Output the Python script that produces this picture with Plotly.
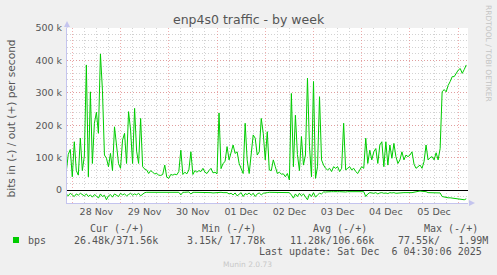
import pandas as pd
import plotly.graph_objects as go

# ---------------- data (bits per second, in thousands) ----------------
start_time = "2025-11-27 21:00"          # first sample, hourly samples
out_kbps = [
    56, 110, 125, 41, 149, 60, 46, 160, 60, 105,
    386, 41, 303, 82, 206, 240, 175, 420, 308, 108,
    98, 72, 113, 60, 195, 144, 82, 67, 154, 175,
    82, 242, 185, 82, 252, 120, 82, 221, 72, 65,
    62, 51, 60, 55, 50, 51, 46, 45, 48, 77,
    40, 36, 48, 46, 49, 47, 57, 123, 48, 55,
    50, 62, 118, 48, 60, 55, 60, 57, 67, 55,
    51, 60, 67, 53, 55, 50, 238, 66, 82, 88,
    134, 93, 113, 139, 113, 118, 82, 67, 51, 206,
    93, 51, 113, 170, 160, 108, 118, 221, 175, 93,
    180, 62, 60, 93, 72, 51, 55, 49, 50, 41,
    51, 31, 298, 72, 231, 110, 60, 165, 77, 108,
    345, 134, 41, 335, 36, 72, 288, 93, 77, 67,
    62, 67, 57, 72, 67, 72, 57, 67, 206, 62,
    67, 72, 62, 67, 57, 51, 62, 72, 67, 160,
    82, 123, 93, 118, 128, 82, 139, 149, 72, 149,
    77, 139, 98, 144, 103, 82, 93, 118, 93, 108,
    103, 108, 118, 80, 67, 72, 77, 67, 88, 139,
    93, 100, 103, 93, 115, 93, 128, 303, 310, 303,
    323, 335, 350, 350, 360, 370, 375, 360, 372, 386,
]
in_kbps = [
    12, 18, 10, 15, 20, 12, 16, 10, 14, 18, 12, 20, 15, 22, 14, 18, 25, 12,
    20, 16, 30, 18, 14, 22, 12, 16, 20, 10, 15, 12, 18, 14, 10, 16, 12,
    15, 10, 18, 12, 8, 7,
    7, 7, 6, 7, 7, 6, 7, 7, 7, 6, 7, 8, 7, 7, 6, 7, 15, 7, 7, 7, 6, 12, 7, 7, 7, 6, 7,
    8, 8, 7, 8, 8, 9, 8, 8, 8, 7, 8, 9, 8, 12,
    10, 15, 9, 18, 12, 8, 20, 11, 14, 9, 16, 10, 20, 12, 9, 15, 10, 8,
    8, 7, 7, 6, 6, 7, 6, 6, 7, 6, 6, 8,
    15, 25, 12, 20, 10, 18, 12, 22, 30, 12, 20, 8, 22, 15, 10, 12,
    6, 6, 5, 6, 5, 5, 6, 5, 5, 6, 5, 6, 5, 5, 6, 5, 5, 6, 5, 6, 5, 20,
    12, 8, 9, 10, 8, 12, 9, 8, 10, 9, 11, 8, 9, 8, 10, 9, 8, 9, 8, 8, 9, 8, 8, 7,
    4, 4, 3, 4, 4, 5, 8, 8, 8, 8, 9, 8, 9,
    20, 22, 23, 24, 24, 25, 26, 27, 28, 28, 29, 30, 27,
]
ytick_vals = [0, 100000, 200000, 300000, 400000, 500000]
ytick_text = ["0", "100 k", "200 k", "300 k", "400 k", "500 k"]
legend_headers = ["Cur (-/+)", "Min (-/+)", "Avg (-/+)", "Max (-/+)"]
legend_values = ["26.48k/371.56k", "3.15k/\u00a017.78k", "11.28k/106.66k", "77.55k/\u00a0\u00a0\u00a01.99M"]
series_name = "bps"
title_text = "enp4s0 traffic - by week"
ylabel_text = "bits in (-) / out (+) per second"
last_update = "Last update: Sat Dec\u00a0\u00a06 04:30:06 2025"

times = pd.date_range(start_time, periods=len(out_kbps), freq="h")
out_bps = [v * 1000 for v in out_kbps]
in_bps = [-v * 1000 for v in in_kbps]

# ---------------- layout geometry (pixels) ----------------
W, H = 497, 275
PL, PR, PT, PB = 67, 468, 28, 203


def px(x):
    return (x - PL) / (PR - PL)


def py(y):
    return (PB - y) / (PB - PT)


GREEN = "#00CC00"
TXT = "#555555"
SANS = "DejaVu Sans"
MONO = "DejaVu Sans Mono"
MAJOR = "rgba(232,130,130,0.65)"
MINOR = "#D2D2D2"
AXISC = "#C4C4EE"

fig = go.Figure()
fig.add_trace(go.Scatter(x=times, y=in_bps, mode="lines",
                         line=dict(color=GREEN, width=1), hoverinfo="skip"))
fig.add_trace(go.Scatter(x=times, y=out_bps, mode="lines",
                         line=dict(color=GREEN, width=1), hoverinfo="skip"))

fig.update_layout(
    width=W, height=H,
    margin=dict(l=PL, r=W - PR, t=PT, b=H - PB),
    paper_bgcolor="#F0F0F0", plot_bgcolor="#FFFFFF",
    showlegend=False,
    font=dict(family=SANS, size=10, color=TXT),
)

fig.update_xaxes(
    type="date",
    range=["2025-11-27 21:22", "2025-12-06 04:52"],
    tick0="2025-11-28", dtick=86400000,
    ticklabelmode="period", tickformat="%d %b",
    ticks="", tickfont=dict(family=SANS, size=9.5, color=TXT),
    showgrid=True, gridcolor=MAJOR, griddash="1px,2px", gridwidth=1,
    minor=dict(dtick=21600000, tick0="2025-11-28", showgrid=True,
               gridcolor=MINOR, griddash="1px,2px", gridwidth=1),
    showline=True, linecolor=AXISC, linewidth=1,
    zeroline=False, fixedrange=True,
)
fig.update_yaxes(
    range=[-40000, 500000],
    tickvals=ytick_vals, ticktext=ytick_text,
    ticks="", tickfont=dict(family=SANS, size=9.5, color=TXT),
    ticklabelstandoff=2,
    showgrid=True, gridcolor=MAJOR, griddash="1px,2px", gridwidth=1,
    minor=dict(dtick=20000, tick0=0, showgrid=True,
               gridcolor=MINOR, griddash="1px,2px", gridwidth=1),
    showline=True, linecolor=AXISC, linewidth=1,
    zeroline=True, zerolinecolor="#000000", zerolinewidth=1,
    fixedrange=True,
)

shapes = [
    # axis arrows
    dict(type="line", xref="paper", yref="paper", x0=px(PL), x1=px(PL), y0=py(PT), y1=py(23),
         line=dict(color=AXISC, width=1)),
    dict(type="path", xref="paper", yref="paper",
         path=f"M {px(PL-3)},{py(27)} L {px(PL+3)},{py(27)} L {px(PL)},{py(21)} Z",
         fillcolor=AXISC, line=dict(color=AXISC, width=0)),
    dict(type="path", xref="paper", yref="paper",
         path=f"M {px(PR+1)},{py(PB-3)} L {px(PR+1)},{py(PB+3)} L {px(PR+7)},{py(PB)} Z",
         fillcolor=AXISC, line=dict(color=AXISC, width=0)),
    # legend colour swatch
    dict(type="rect", xref="paper", yref="paper",
         x0=px(13), x1=px(19), y0=py(243), y1=py(237),
         fillcolor=GREEN, line=dict(width=0)),
]
fig.update_layout(shapes=shapes)

ann = []
ann.append(dict(text=title_text, x=px(248.5), y=py(19), xanchor="center", yanchor="middle",
                font=dict(family=SANS, size=12.5, color=TXT)))
ann.append(dict(text=ylabel_text, x=px(10.5), y=py(119), textangle=-90,
                xanchor="center", yanchor="middle", font=dict(family=SANS, size=10.6, color=TXT)))
ann.append(dict(text="RRDTOOL / TOBI OETIKER", x=px(488.5), y=py(53.5), textangle=90,
                xanchor="center", yanchor="middle", font=dict(family=SANS, size=7.5, color="#C4C4C4")))
header_x = [89, 201, 312, 423]
value_x = [72.5, 186, 289, 397]
for hx, t in zip(header_x, legend_headers):
    ann.append(dict(text=t, x=px(hx), y=py(228), xanchor="left", yanchor="middle",
                    font=dict(family=MONO, size=10, color=TXT)))
ann.append(dict(text=series_name, x=px(27), y=py(240), xanchor="left", yanchor="middle",
                font=dict(family=MONO, size=10, color=TXT)))
for vx, t in zip(value_x, legend_values):
    ann.append(dict(text=t, x=px(vx), y=py(240), xanchor="left", yanchor="middle",
                    font=dict(family=MONO, size=10, color=TXT)))
ann.append(dict(text=last_update, x=px(483), y=py(251.5), xanchor="right", yanchor="middle",
                font=dict(family=MONO, size=10, color=TXT)))
ann.append(dict(text="Munin 2.0.73", x=px(247.5), y=py(264.5), xanchor="center", yanchor="middle",
                font=dict(family=SANS, size=7.5, color="#C8C8C8")))
for a in ann:
    a.update(xref="paper", yref="paper", showarrow=False, borderpad=0)
fig.update_layout(annotations=ann)

fig.write_html("out.html", config={"displayModeBar": False, "staticPlot": True})
